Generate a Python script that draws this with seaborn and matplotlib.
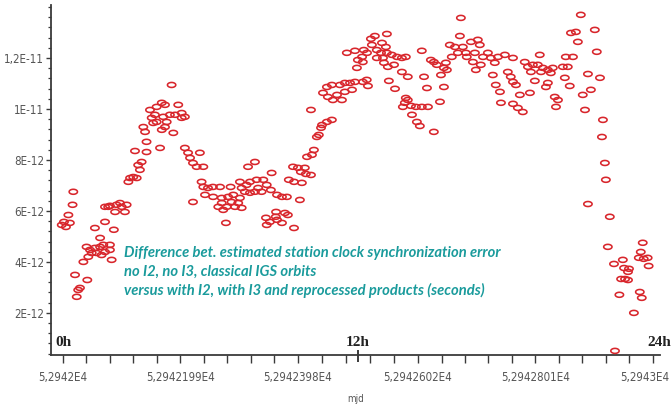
import numpy as np
import pandas as pd
import matplotlib
matplotlib.use("Agg")
import matplotlib.pyplot as plt
import matplotlib.transforms as mtransforms
import seaborn as sns
from matplotlib.path import Path
from matplotlib.ticker import FixedLocator, FixedFormatter, MultipleLocator

# Epoch hours after MJD 52942.0 and clock synchronization difference (picoseconds)
hours = [
    -0.05, 0.04, 0.12, 0.22, 0.28, 0.39, 0.42, 0.49, 0.56, 0.62, 0.69, 0.83, 0.99, 0.96,
    1.03, 1.10, 1.17, 1.30, 1.37, 1.30, 1.51, 1.51, 1.57, 1.64, 1.71, 1.71, 1.91, 1.91,
    1.98, 2.07, 1.84, 1.71, 1.91, 2.12, 2.18, 2.32, 2.39, 2.52, 2.59,
    2.66, 2.73, 2.86, 3.00, 3.06, 3.13, 3.20, 2.93, 3.40, 3.40, 3.95, 3.34, 3.27, 3.67,
    3.81, 4.02, 3.61, 3.74, 3.54, 3.81, 4.02, 4.15, 4.08, 4.15, 4.49, 4.42, 4.69, 4.35,
    4.56, 4.83, 4.96, 4.83, 4.22, 4.96, 5.09, 5.17, 5.29, 5.57, 5.44, 5.71, 5.64, 5.71,
    5.90, 6.10, 6.39, 5.29,
    5.78, 6.11, 6.46, 6.72, 6.93, 7.20, 6.86, 7.13, 6.46, 6.32, 6.66, 7.00, 7.27, 6.52,
    6.63, 7.20, 7.61, 7.47, 7.88, 8.15, 8.49, 8.29, 7.94, 7.81, 7.61, 8.08, 7.40, 7.27,
    6.82, 7.53, 7.81, 8.26, 8.42, 8.29, 8.67, 8.66, 8.71, 8.91, 9.03, 9.15, 9.40, 8.46,
    8.71, 8.91, 9.11, 9.64, 9.19, 9.40, 9.72, 9.36, 9.56, 9.84, 9.68, 9.88, 10.09, 9.93,
    10.13, 10.21, 10.33, 10.41, 10.50, 10.54, 10.74, 10.94, 10.09, 10.58, 10.78, 10.98,
    11.15, 11.35, 10.74, 10.94, 11.27, 11.47, 11.68, 11.88, 11.47, 11.76, 12.20, 12.41,
    12.36,
    11.55, 11.88, 12.00, 12.17, 12.24, 12.37, 11.96, 12.20, 12.53, 12.57, 12.69, 12.98,
    13.14, 13.18, 12.77, 12.94, 13.18, 13.38, 13.59, 13.79, 13.95, 12.77, 13.06, 13.47,
    13.02, 13.22, 13.79, 14.03, 13.26, 13.51, 13.95, 14.03, 13.91, 13.83, 14.16, 14.36,
    14.60, 14.85, 14.20, 14.40, 14.52, 15.09, 14.60, 14.69, 14.81, 14.97, 15.09, 15.21,
    15.50, 15.62, 15.58, 15.38, 15.50, 15.34,
    16.19, 16.15, 15.74, 15.95, 16.27, 16.60, 16.88, 16.96, 16.07, 16.39, 15.82, 16.68,
    16.76, 17.09, 17.29, 17.41, 17.70, 17.98, 18.31, 16.80, 17.00, 17.57, 17.49, 17.61,
    17.78, 18.10, 18.22, 18.31, 18.43, 17.82, 18.31, 18.51, 18.71, 16.43, 18.79, 18.92,
    19.12, 19.32, 19.53, 19.73, 19.93, 20.34, 20.54, 19.04, 19.45, 19.85, 19.40, 20.46,
    20.75, 19.20, 19.73, 19.65, 20.42, 20.62, 18.59, 19.00, 20.01, 20.14, 20.06,
    21.07, 20.67, 20.87, 21.64, 20.95, 21.72, 21.36, 21.85, 21.48, 21.15, 21.24, 21.97,
    21.93, 22.05, 22.09, 21.36, 22.25, 22.17,
    23.59, 23.51, 23.43, 23.63, 23.79, 23.83, 22.78, 22.42, 22.83, 23.03, 22.99, 22.71,
    22.87, 22.99, 23.47, 23.55, 22.64, 23.23, 22.46,
]
diff_ps = [
    5.45, 5.57, 5.37, 5.84, 5.53, 6.24, 6.75, 3.49, 2.63, 2.90, 2.98, 4.00, 3.29, 4.59,
    4.20, 4.47, 4.35, 4.55, 4.35, 5.33, 4.94, 4.59, 4.27, 4.67, 4.39, 5.57, 4.47, 4.67,
    4.08, 5.26, 6.16, 6.16, 6.20, 5.96, 6.24, 6.31, 6.16, 5.96, 6.24,
    7.14, 7.29, 7.33, 7.29, 7.80, 7.61, 7.92, 8.35, 8.31, 8.71, 8.47, 9.10, 9.29, 9.45,
    9.49, 9.18, 9.65, 9.77, 9.96, 10.08, 10.24, 10.16, 9.69, 9.29, 9.06, 10.94, 10.16, 9.77,
    9.77, 9.84, 9.69, 9.65, 9.49, 8.47, 8.28, 8.08, 7.88, 8.28, 7.73, 7.73, 7.14, 6.94,
    6.90, 6.94, 6.94, 6.35,
    6.63, 6.55, 6.51, 6.55, 6.63, 6.51, 6.35, 6.31, 6.31, 6.16, 6.16, 6.16, 6.12, 6.04,
    5.53, 7.14, 7.14, 7.02, 7.22, 7.22, 7.49, 7.02, 6.90, 6.75, 6.71, 6.75, 6.75, 6.90,
    6.94, 7.73, 7.92, 5.73, 5.57, 5.45, 5.96, 5.77, 5.65, 5.53, 5.92, 5.84, 5.33, 6.82,
    6.63, 6.55, 6.55, 6.43, 7.22, 7.14, 7.10, 7.73, 7.69, 7.69, 7.53, 7.45, 7.41, 8.12,
    8.20, 8.39, 8.90, 8.98, 9.26, 9.37, 9.49, 9.57, 9.96, 10.63, 10.47, 10.35,
    10.55, 10.35, 10.86, 10.94, 10.94, 11.02, 11.02, 11.06, 10.67, 10.75, 11.06, 10.90,
    11.14,
    12.20, 12.28, 11.92, 12.04, 12.31, 12.20, 11.61, 11.84, 12.75, 12.51, 12.86, 12.59,
    12.43, 12.94, 12.31, 12.20, 12.20, 12.12, 12.04, 12.00, 12.04, 12.00, 11.81, 11.73,
    12.00, 11.65, 11.45, 11.26, 11.10, 10.79, 10.43, 10.35, 10.24, 10.08, 10.12, 10.08,
    10.08, 10.08, 9.77, 9.49, 9.33, 9.10, 12.28, 11.26, 10.82, 11.92, 11.84, 11.73,
    11.61, 11.53, 11.81, 11.33, 10.86, 10.28,
    13.57, 12.86, 12.51, 12.43, 12.43, 12.63, 12.71, 12.51, 12.20, 12.20, 12.04, 11.84,
    12.20, 12.04, 12.20, 12.00, 12.04, 12.12, 12.00, 11.53, 11.73, 11.81, 11.33, 10.94,
    10.67, 11.45, 11.26, 11.06, 10.94, 10.24, 10.20, 10.04, 9.88, 12.04, 11.84, 11.65,
    11.73, 11.73, 11.61, 11.53, 11.61, 11.65, 11.65, 11.45, 11.45, 11.41, 12.12, 12.04,
    12.04, 11.10, 11.02, 10.86, 11.22, 10.90, 10.55, 10.63, 10.47, 10.35, 10.08,
    13.69, 12.98, 13.02, 13.10, 12.63, 12.24, 11.37, 11.22, 10.75, 10.55, 9.96, 9.57,
    8.90, 7.88, 7.22, 6.27, 5.77, 4.59,
    4.75, 4.39, 4.16, 4.12, 4.16, 3.84, 4.08, 3.92, 3.76, 3.73, 3.61, 3.33,
    3.33, 3.29, 2.82, 2.59, 2.71, 2.00, 0.51,
]

mjd_start = 52942.0
x_ticks = [52942.0, 52942.199, 52942.398, 52942.602, 52942.801, 52943.0]
x_tick_labels = ["5,2942E4", "5,2942199E4", "5,2942398E4", "5,2942602E4", "5,2942801E4", "5,2943E4"]
y_ticks = [2e-12, 4e-12, 6e-12, 8e-12, 1e-11, 1.2e-11]
y_tick_labels = ["2E-12", "4E-12", "6E-12", "8E-12", "1E-11", "1,2E-11"]
hour_marks = [0, 12, 24]
hour_labels = ["0h", "12h", "24h"]
note_lines = [
    "Difference bet. estimated station clock synchronization error",
    "no I2, no I3, classical IGS orbits",
    "versus with I2, with I3 and reprocessed products (seconds)",
]

df = pd.DataFrame({
    "mjd": mjd_start + np.asarray(hours) / 24.0,
    "diff": np.asarray(diff_ps) * 1e-12,
})

RED = "#d8262c"
TEAL = "#1a9b9c"
AXIS = "#3a3a3a"
TICKTXT = "#555555"

sns.set_theme(style="white")
plt.rcParams["font.family"] = ["DejaVu Sans"]

fig = plt.figure(figsize=(6.72, 4.08), dpi=100)
ax = fig.add_axes([0.0759, 0.130, 0.906, 0.858])

# open flattened ring used as the point marker
theta = np.linspace(0, 2 * np.pi, 41)
ring = Path(np.column_stack([np.cos(theta), 0.6 * np.sin(theta)]), closed=True)

sns.scatterplot(data=df, x="mjd", y="diff", marker=ring, s=36, color=RED,
                linewidth=1.15, ax=ax, legend=False, zorder=3)
for coll in ax.collections:
    coll.set_facecolor("none")
    coll.set_edgecolor(RED)

ax.set_xlim(52941.9797, 52943.0119)
ax.set_ylim(3.5e-13, 1.408e-11)

# axes frame: only left and bottom lines
for side in ("top", "right"):
    ax.spines[side].set_visible(False)
for side in ("left", "bottom"):
    ax.spines[side].set_color(AXIS)
    ax.spines[side].set_linewidth(1.3)

ax.xaxis.set_major_locator(FixedLocator(x_ticks))
ax.xaxis.set_major_formatter(FixedFormatter(x_tick_labels))
minor_x = []
for a, b in zip(x_ticks[:-1], x_ticks[1:]):
    minor_x.extend(np.linspace(a, b, 6)[1:-1])
ax.xaxis.set_minor_locator(FixedLocator(minor_x))

ax.yaxis.set_major_locator(FixedLocator(y_ticks))
ax.yaxis.set_major_formatter(FixedFormatter(y_tick_labels))
ax.yaxis.set_minor_locator(MultipleLocator(4e-13))

ax.tick_params(axis="x", which="both", direction="out", length=5.5, width=1.0,
               color=AXIS, bottom=True, pad=6)
ax.tick_params(axis="y", which="major", direction="out", length=3.5, width=1.0,
               color=AXIS, left=True, pad=1.5)
ax.tick_params(axis="y", which="minor", direction="out", length=2.2, width=0.9,
               color=AXIS, left=True)
for lab in ax.get_xticklabels() + ax.get_yticklabels():
    lab.set_fontfamily(["DejaVu Sans"])
    lab.set_fontstretch("condensed")
    lab.set_fontsize(8.3)
    lab.set_color(TICKTXT)

# keep the last date label inside the figure edge
last_lab = ax.get_xticklabels()[-1]
last_lab.set_transform(last_lab.get_transform()
                       + mtransforms.ScaledTranslation(-6 / 72, 0, fig.dpi_scale_trans))

ax.set_xlabel("mjd", fontsize=7, color=TICKTXT, labelpad=7, fontstretch="condensed")
ax.set_ylabel("")

# hour markers along the time axis
hour_x = [mjd_start + h / 24.0 for h in hour_marks]
hour_x[-1] += 0.0105
for xm, txt in zip(hour_x, hour_labels):
    ax.text(xm, 0.036, txt, transform=ax.get_xaxis_transform(), ha="center",
            va="center", fontsize=11, fontweight="bold", color="#222222",
            family=["Liberation Serif", "DejaVu Serif"])
ax.vlines(mjd_start + 0.5, -0.02, 0.015, transform=ax.get_xaxis_transform(),
          color=AXIS, linewidth=1.4, clip_on=False)

for i, line in enumerate(note_lines):
    fig.text(0.1845, 0.380 - i * 0.0455, line, ha="left", va="center",
             fontsize=10.6, fontweight="bold", fontstyle="italic", color=TEAL,
             family=["Lato", "DejaVu Sans"])

fig.savefig("out.png", dpi=100, facecolor="white")
